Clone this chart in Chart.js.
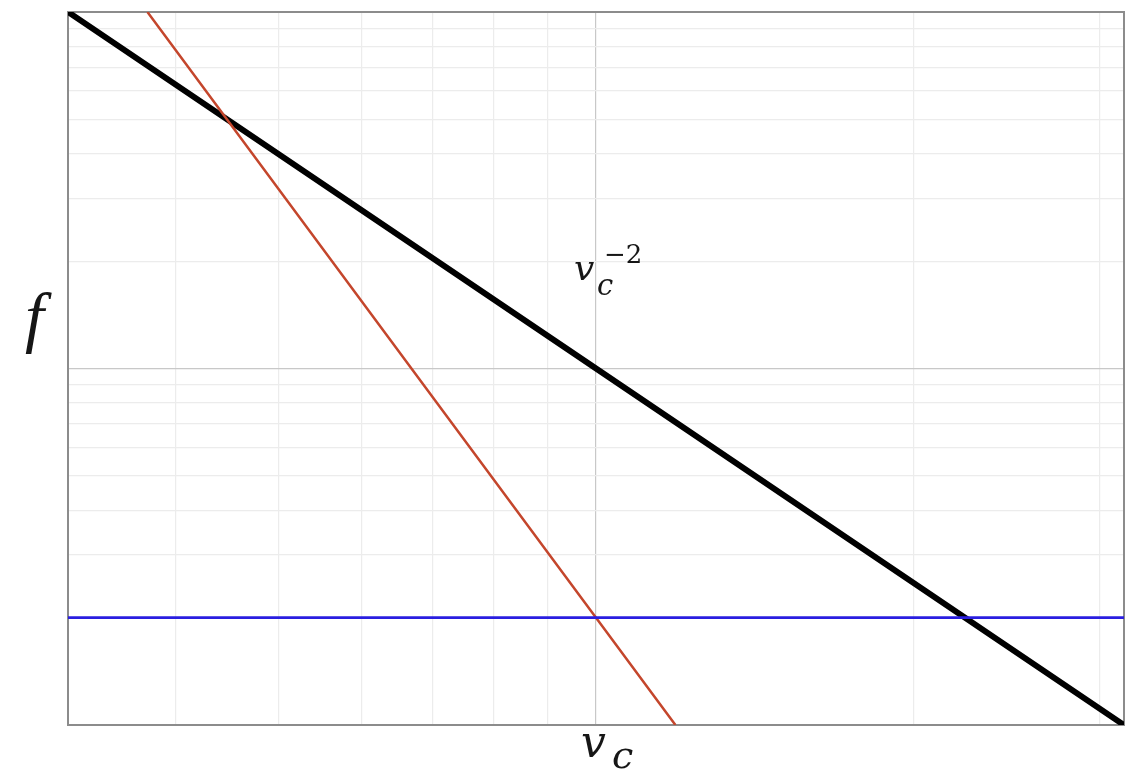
<!DOCTYPE html>
<html>
<head>
<meta charset="utf-8">
<script src="https://cdn.jsdelivr.net/npm/chart.js@4/dist/chart.umd.min.js"></script>
<style>
html,body{margin:0;padding:0;background:#fff;}
#wrap{width:1143px;height:774px;position:relative;}
</style>
</head>
<body>
<div id="wrap"><canvas id="c" width="1143" height="774"></canvas></div>
<script>
// ---- data (log-log axes) ----
const blackX = [3.162, 10, 31.62];
const blackY = [100, 10, 1];
const redX = [3.76, 10, 11.89];
const redY = [100, 2, 1];
const blueX = [3.162, 31.62];
const blueY = [2, 2];
const xGridTicks = [4, 5, 6, 7, 8, 9, 10, 20, 30];
const yGridTicks = [2, 3, 4, 5, 6, 7, 8, 9, 10, 20, 30, 40, 50, 60, 70, 80, 90];
const xMin = 3.162, xMax = 31.62, yMin = 1, yMax = 100;
const vcValue = 10;

function pts(xs, ys){ return xs.map((x,i)=>({x:x, y:ys[i]})); }

const frame = {
  id: 'frame',
  beforeDatasetsDraw(chart){
    const a = chart.chartArea, ctx = chart.ctx;
    ctx.save();
    ctx.strokeStyle = '#8c8c8c';
    ctx.lineWidth = 2;
    ctx.strokeRect(a.left, a.top, a.right - a.left, a.bottom - a.top);
    ctx.restore();
  },
  afterDraw(chart){
    const ctx = chart.ctx;
    const xs = chart.scales.x, ys = chart.scales.y;
    const px = xs.getPixelForValue(vcValue);
    const py = ys.getPixelForValue(10);
    ctx.save();
    ctx.fillStyle = '#161616';
    ctx.textBaseline = 'alphabetic';
    ctx.textAlign = 'left';
    // x label: v_c at v_c tick
    ctx.font = 'italic 44px "DejaVu Serif"';
    ctx.fillText('v', px - 15, 757);
    ctx.font = 'italic 38px "DejaVu Serif"';
    ctx.fillText('c', px + 16, 768);
    // y label: f
    ctx.font = 'italic 68px "Liberation Serif"';
    ctx.fillText('f', 25, 340);
    // annotation v_c^{-2}
    ctx.font = 'italic 36px "DejaVu Serif"';
    ctx.fillText('v', px - 22, py - 89);
    ctx.font = 'italic 29px "DejaVu Serif"';
    ctx.fillText('c', px + 1, py - 74);
    ctx.font = '26px "DejaVu Serif"';
    ctx.fillText('\u22122', px + 8, py - 106);
    ctx.restore();
  }
};

function gridColor(ctx){
  const t = ctx.tick;
  if (!t) return 'rgba(0,0,0,0)';
  if (t.value === 10) return '#c8c8c8';
  return '#ececec';
}

new Chart(document.getElementById('c'), {
  type: 'line',
  data: {
    datasets: [
      { data: pts(blueX, blueY), borderColor: '#2a1ee0', borderWidth: 2.8, pointRadius: 0, tension: 0 },
      { data: pts(redX, redY), borderColor: '#c4462c', borderWidth: 2.5, pointRadius: 0, tension: 0 },
      { data: pts(blackX, blackY), borderColor: '#000000', borderWidth: 6, pointRadius: 0, tension: 0 }
    ]
  },
  options: {
    responsive: false,
    animation: false,
    events: [],
    layout: { padding: { left: 68, top: 12, right: 19, bottom: 49 } },
    plugins: { legend: { display: false }, tooltip: { enabled: false } },
    scales: {
      x: {
        type: 'logarithmic', min: xMin, max: xMax,
        afterBuildTicks(s){ s.ticks = xGridTicks.map(v => ({value: v})); },
        ticks: { display: false },
        grid: { color: gridColor, lineWidth: 1.2, drawTicks: false },
        border: { display: false }
      },
      y: {
        type: 'logarithmic', min: yMin, max: yMax,
        afterBuildTicks(s){ s.ticks = yGridTicks.map(v => ({value: v})); },
        ticks: { display: false },
        grid: { color: gridColor, lineWidth: 1.2, drawTicks: false },
        border: { display: false }
      }
    }
  },
  plugins: [frame]
});
</script>
</body>
</html>
